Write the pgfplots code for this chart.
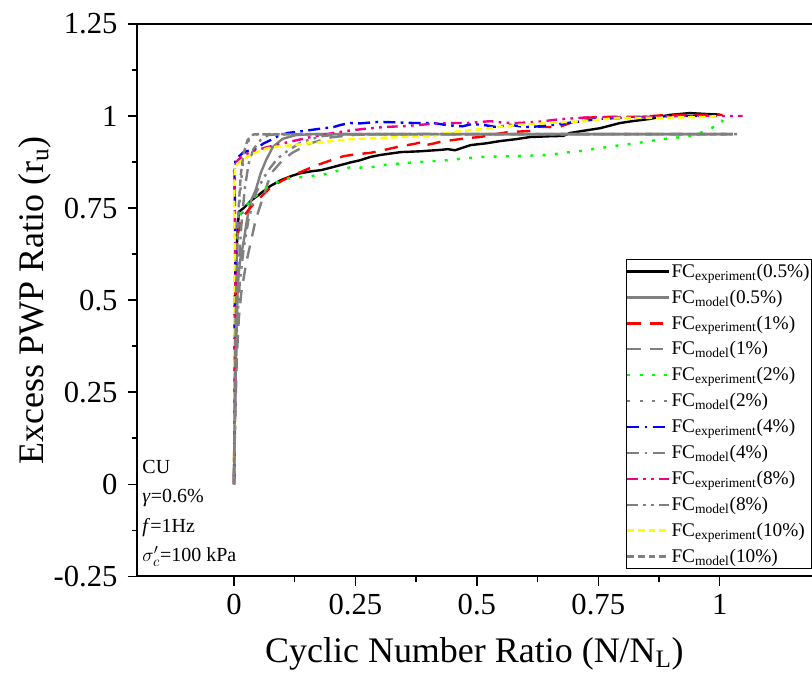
\documentclass[border=0pt]{standalone}
\usepackage{fontspec}
\setmainfont{Liberation Serif}
\usepackage{pgfplots}
\pgfplotsset{compat=1.18}
\definecolor{mgray}{RGB}{128,128,128}
\definecolor{mgreen}{RGB}{0,255,0}
\definecolor{myellow}{RGB}{255,255,0}
\begin{document}
\begin{tikzpicture}
\begin{axis}[
  scale only axis,
  width=507pt, height=414.75pt,
  xmin=-0.2, xmax=1.19, ymin=-0.25, ymax=1.25,
  axis x line=box, axis y line=left,
  axis line style={-, line width=1.2pt},
  xtick pos=bottom, ytick pos=left,
  tick align=outside,
  xtick={0,0.25,0.5,0.75,1},
  ytick={-0.25,0,0.25,0.5,0.75,1,1.25},
  minor x tick num=1, minor y tick num=1,
  major tick length=7pt, minor tick length=4pt,
  every tick/.style={black, line width=1.1pt},
  /pgf/number format/assume math mode=true,
  tick label style={font=\fontsize{23}{23}\selectfont},
  xticklabel style={yshift=-3pt},
  yticklabel style={xshift=-4pt},
  every axis y label/.style={at={(axis description cs:-0.151,0.5)}, rotate=90, anchor=center},
  every axis x label/.style={at={(axis description cs:0.5,-0.141)}, anchor=center},
  label style={font=\fontsize{27}{27}\selectfont},
  xlabel={Cyclic Number Ratio (N/N\textsubscript{L})},
  ylabel={Excess PWP Ratio (r\textsubscript{u})},
  legend image code/.code={\draw[#1] (0pt,0pt) -- (31pt,0pt);},
  legend cell align=left,
  legend style={at={(rel axis cs:1.0,0.0127)}, anchor=south east,
    draw=black, line width=1.1pt, fill=white,
    font=\fontsize{14.5}{16}\selectfont,
    inner xsep=0pt, inner ysep=2pt, row sep=5.5pt,
    nodes={inner sep=1.2pt}},
  every axis plot/.append style={line width=1.8pt, line join=round},
]
% 0.5% experiment
\addplot[black, solid] coordinates {(0,0) (0.001,0.1) (0.002,0.25) (0.003,0.4) (0.004,0.55) (0.006,0.65) (0.008,0.7) (0.01,0.74) (0.02,0.75) (0.035,0.77) (0.055,0.79) (0.075,0.81) (0.097,0.826) (0.12,0.838) (0.138,0.845) (0.16,0.85) (0.179,0.853) (0.2,0.86) (0.22,0.867) (0.24,0.874) (0.26,0.88) (0.281,0.889) (0.30,0.894) (0.343,0.902) (0.38,0.904) (0.425,0.908) (0.44,0.91) (0.455,0.907) (0.487,0.921) (0.52,0.926) (0.548,0.932) (0.58,0.937) (0.61,0.943) (0.65,0.945) (0.678,0.946) (0.692,0.954) (0.72,0.96) (0.754,0.967) (0.795,0.981) (0.82,0.986) (0.856,0.992) (0.897,1.003) (0.938,1.008) (0.979,1.005) (1.0,1.004)};
\addlegendentry{FC\textsubscript{experiment}(0.5\%)}
% 0.5% model
\addplot[mgray, solid] coordinates {(0,0) (0.002,0.2) (0.004,0.35) (0.006,0.45) (0.008,0.55) (0.013,0.61) (0.02,0.66) (0.027,0.72) (0.035,0.77) (0.045,0.8) (0.055,0.845) (0.066,0.88) (0.08,0.916) (0.1,0.938) (0.127,0.948) (0.16,0.951) (1.027,0.951)};
\addlegendentry{FC\textsubscript{model}(0.5\%)}
% 1% experiment
\addplot[red, dash pattern=on 10pt off 7pt] coordinates {(0,0) (0.001,0.2) (0.002,0.45) (0.004,0.6) (0.008,0.68) (0.015,0.72) (0.035,0.753) (0.055,0.78) (0.076,0.807) (0.1,0.825) (0.123,0.84) (0.15,0.855) (0.172,0.867) (0.2,0.88) (0.226,0.891) (0.25,0.896) (0.281,0.9) (0.31,0.908) (0.343,0.918) (0.37,0.924) (0.39,0.93) (0.395,0.921) (0.41,0.925) (0.425,0.93) (0.452,0.935) (0.48,0.94) (0.507,0.943) (0.535,0.95) (0.563,0.956) (0.59,0.958) (0.616,0.96) (0.626,0.971) (0.65,0.97) (0.671,0.971) (0.7,0.985) (0.719,0.995) (0.75,0.997) (0.789,0.998) (0.842,0.998) (0.891,1.003) (0.959,1.003) (1.006,1.003)};
\addlegendentry{FC\textsubscript{experiment}(1\%)}
% 1% model
\addplot[mgray, dash pattern=on 10pt off 7pt] coordinates {(0,0) (0.003,0.2) (0.006,0.35) (0.01,0.45) (0.015,0.52) (0.025,0.6) (0.035,0.66) (0.045,0.72) (0.06,0.78) (0.07,0.82) (0.08,0.85) (0.1,0.88) (0.12,0.9) (0.155,0.925) (0.2,0.942) (0.25,0.949) (0.3,0.951) (1.027,0.951)};
\addlegendentry{FC\textsubscript{model}(1\%)}
% 2% experiment
\addplot[mgreen, dash pattern=on 2.2pt off 7pt] coordinates {(0,0) (0.001,0.2) (0.002,0.4) (0.003,0.55) (0.005,0.65) (0.01,0.72) (0.02,0.75) (0.035,0.77) (0.055,0.795) (0.076,0.813) (0.103,0.829) (0.138,0.834) (0.179,0.84) (0.205,0.848) (0.24,0.861) (0.275,0.859) (0.306,0.867) (0.378,0.875) (0.439,0.88) (0.507,0.889) (0.575,0.891) (0.645,0.894) (0.678,0.9) (0.713,0.905) (0.78,0.918) (0.842,0.929) (0.881,0.937) (0.943,0.946) (0.975,0.962) (1.004,0.981) (1.006,0.99)};
\addlegendentry{FC\textsubscript{experiment}(2\%)}
% 2% model
\addplot[mgray, dash pattern=on 2.2pt off 7pt] coordinates {(0,0) (0.002,0.3) (0.004,0.5) (0.007,0.65) (0.012,0.78) (0.018,0.87) (0.025,0.92) (0.035,0.945) (0.05,0.951) (1.045,0.951)};
\addlegendentry{FC\textsubscript{model}(2\%)}
% 4% experiment
\addplot[blue, dash pattern=on 9pt off 4pt on 2pt off 4pt] coordinates {(0,0) (0.002,0.25) (0.001,0.45) (0.003,0.6) (0.002,0.75) (0.001,0.85) (0.003,0.88) (0.01,0.89) (0.02,0.902) (0.035,0.908) (0.049,0.913) (0.06,0.925) (0.076,0.935) (0.09,0.945) (0.111,0.954) (0.135,0.958) (0.158,0.962) (0.18,0.966) (0.205,0.97) (0.22,0.976) (0.24,0.981) (0.26,0.98) (0.296,0.984) (0.33,0.983) (0.37,0.981) (0.41,0.981) (0.44,0.975) (0.47,0.972) (0.49,0.978) (0.513,0.976) (0.54,0.97) (0.569,0.976) (0.6,0.97) (0.63,0.972) (0.657,0.976) (0.68,0.98) (0.719,0.986) (0.747,0.992) (0.78,0.994) (0.809,0.995) (0.85,0.998) (0.9,1.0) (0.95,1.0) (0.99,1.0)};
\addlegendentry{FC\textsubscript{experiment}(4\%)}
% 4% model
\addplot[mgray, dash pattern=on 9pt off 4pt on 2pt off 4pt] coordinates {(0,0) (0.002,0.25) (0.005,0.45) (0.01,0.6) (0.015,0.7) (0.022,0.8) (0.03,0.87) (0.04,0.91) (0.055,0.935) (0.07,0.948) (0.09,0.951) (1.027,0.951)};
\addlegendentry{FC\textsubscript{model}(4\%)}
% 8% experiment
\addplot[magenta, dash pattern=on 8pt off 4pt on 2pt off 4pt on 2pt off 4pt] coordinates {(0,0) (0.002,0.2) (0.001,0.4) (0.003,0.55) (0.002,0.7) (0.001,0.8) (0.0,0.86) (0.008,0.88) (0.02,0.894) (0.04,0.905) (0.07,0.916) (0.09,0.922) (0.111,0.929) (0.135,0.936) (0.158,0.943) (0.18,0.948) (0.205,0.954) (0.235,0.96) (0.267,0.965) (0.308,0.97) (0.357,0.973) (0.4,0.978) (0.431,0.981) (0.48,0.981) (0.528,0.986) (0.555,0.982) (0.583,0.981) (0.624,0.984) (0.65,0.988) (0.678,0.992) (0.739,0.997) (0.821,0.997) (0.924,1.0) (1.0,1.0) (1.047,1.0)};
\addlegendentry{FC\textsubscript{experiment}(8\%)}
% 8% model
\addplot[mgray, dash pattern=on 8pt off 4pt on 2pt off 4pt on 2pt off 4pt] coordinates {(0,0) (0.003,0.25) (0.006,0.42) (0.012,0.55) (0.02,0.64) (0.03,0.72) (0.045,0.79) (0.06,0.83) (0.075,0.86) (0.09,0.885) (0.11,0.905) (0.14,0.93) (0.18,0.945) (0.22,0.951) (1.027,0.951)};
\addlegendentry{FC\textsubscript{model}(8\%)}
% 10% experiment
\addplot[myellow, dash pattern=on 5pt off 3pt] coordinates {(0,0) (0.001,0.2) (0.0,0.4) (0.002,0.55) (0.001,0.7) (0.0,0.8) (0.002,0.86) (0.008,0.872) (0.02,0.884) (0.035,0.894) (0.05,0.904) (0.07,0.913) (0.095,0.918) (0.123,0.921) (0.15,0.925) (0.179,0.929) (0.2,0.932) (0.226,0.935) (0.24,0.937) (0.287,0.94) (0.343,0.943) (0.41,0.946) (0.43,0.952) (0.452,0.957) (0.483,0.961) (0.513,0.965) (0.55,0.971) (0.583,0.976) (0.651,0.981) (0.719,0.986) (0.789,0.995) (0.856,0.995) (0.959,0.997) (1.0,1.0)};
\addlegendentry{FC\textsubscript{experiment}(10\%)}
% 10% model
\addplot[mgray, dash pattern=on 5pt off 3pt] coordinates {(0,0) (0.002,0.3) (0.004,0.5) (0.007,0.66) (0.01,0.76) (0.014,0.84) (0.02,0.9) (0.028,0.935) (0.04,0.95) (1.027,0.951)};
\addlegendentry{FC\textsubscript{model}(10\%)}
\node[anchor=south west, align=left, inner sep=0pt, font=\fontsize{15}{22}\selectfont]
  at (rel axis cs:0.008,0.018)
  {CU\\ \textit{γ}=0.6\%\\ \textit{f}=1Hz\\ $\sigma'_{c}$=100 kPa};
\end{axis}
\pgfresetboundingbox
\path[use as bounding box] ([shift={(-102.75pt,-73.5pt)}]current axis.south west) rectangle ([shift={(0pt,18pt)}]current axis.north east);
\end{tikzpicture}
\end{document}
